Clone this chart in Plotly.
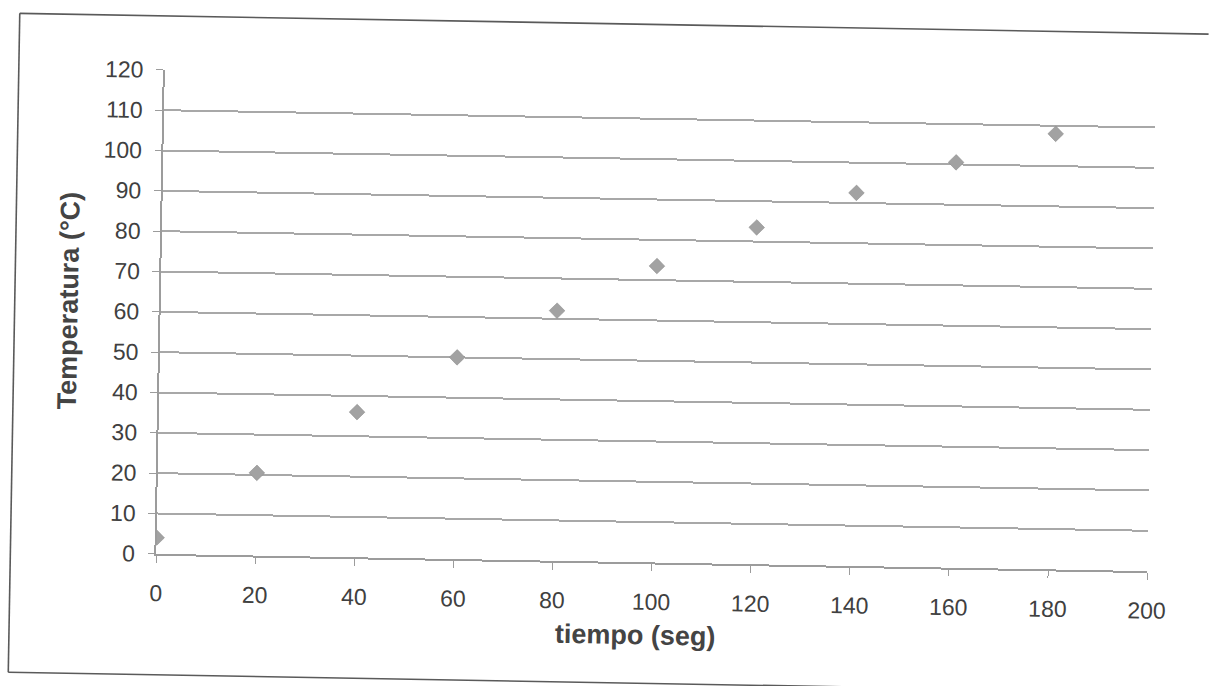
import plotly.graph_objects as go

# Heating curve: time (s) vs temperature (°C)
tiempo = [0, 20, 40, 60, 80, 100, 120, 140, 160, 180]
temperatura = [4, 20.5, 36, 50, 62, 73.5, 83.5, 92.5, 100.5, 108]

x_ticks = [0, 20, 40, 60, 80, 100, 120, 140, 160, 180, 200]
y_ticks = [0, 10, 20, 30, 40, 50, 60, 70, 80, 90, 100, 110, 120]

x_title = "tiempo (seg)"
y_title = "Temperatura (°C)"

W, H = 1209, 686
L, R, T, B = 166, 52, 67, 135
PW, PH = W - L - R, H - T - B


def px_x(p):
    return (p - L) / PW


def px_y(p):
    return (H - B - p) / PH


FONT = "Liberation Sans, Arial, sans-serif"

fig = go.Figure()
fig.add_trace(go.Scatter(
    x=tiempo, y=temperatura, mode="markers",
    marker=dict(symbol="diamond", size=12, color="#a2a2a2",
                line=dict(width=0.6, color="#8f8f8f")),
    showlegend=False, hoverinfo="skip",
))

axis_common = dict(
    showline=True, linecolor="#9c9c9c", linewidth=1.6,
    ticks="outside", ticklen=7, tickcolor="#9c9c9c", tickwidth=1.4,
    tickfont=dict(family=FONT, size=23, color="#404040"),
    zeroline=False, fixedrange=True,
)

fig.update_xaxes(
    range=[0, 200], tickvals=x_ticks, ticktext=[str(v) for v in x_ticks],
    showgrid=False, ticklabelstandoff=11, **axis_common,
)
fig.update_yaxes(
    range=[0, 120], tickvals=y_ticks, ticktext=[str(v) for v in y_ticks],
    showgrid=True, gridcolor="#a8a8a8", gridwidth=1.5,
    ticklabelstandoff=8, **axis_common,
)

# Chart frame (top, left and bottom edges)
frame = dict(type="line", xref="paper", yref="paper",
             line=dict(color="#5a5a5a", width=1.6))
shapes = [
    dict(frame, x0=px_x(20), x1=px_x(1215), y0=px_y(13), y1=px_y(13)),
    dict(frame, x0=px_x(20), x1=px_x(20), y0=px_y(13), y1=px_y(672)),
    dict(frame, x0=px_x(20), x1=px_x(1215), y0=px_y(672), y1=px_y(672)),
]

annotations = [
    dict(text=f"<b>{y_title}</b>", xref="paper", yref="paper",
         x=px_x(74), y=px_y(300), xanchor="center", yanchor="middle",
         textangle=-90, showarrow=False,
         font=dict(family=FONT, size=27, color="#444444")),
    dict(text=f"<b>{x_title}</b>", xref="paper", yref="paper",
         x=px_x(646), y=px_y(624), xanchor="center", yanchor="middle",
         showarrow=False,
         font=dict(family=FONT, size=27, color="#444444")),
]

fig.update_layout(
    width=W, height=H,
    margin=dict(l=L, r=R, t=T, b=B, pad=0),
    paper_bgcolor="white", plot_bgcolor="white",
    shapes=shapes, annotations=annotations,
)

# The printed sheet sits about one degree off square
post = (
    "var gd = document.getElementById('{plot_id}');"
    "document.documentElement.style.overflow = 'hidden';"
    "document.body.style.overflow = 'hidden';"
    "document.body.style.margin = '0';"
    "gd.style.transformOrigin = '0 0';"
    "gd.style.transform = 'rotate(1deg)';"
)

fig.write_html("out.html", config={"displayModeBar": False}, post_script=post)
